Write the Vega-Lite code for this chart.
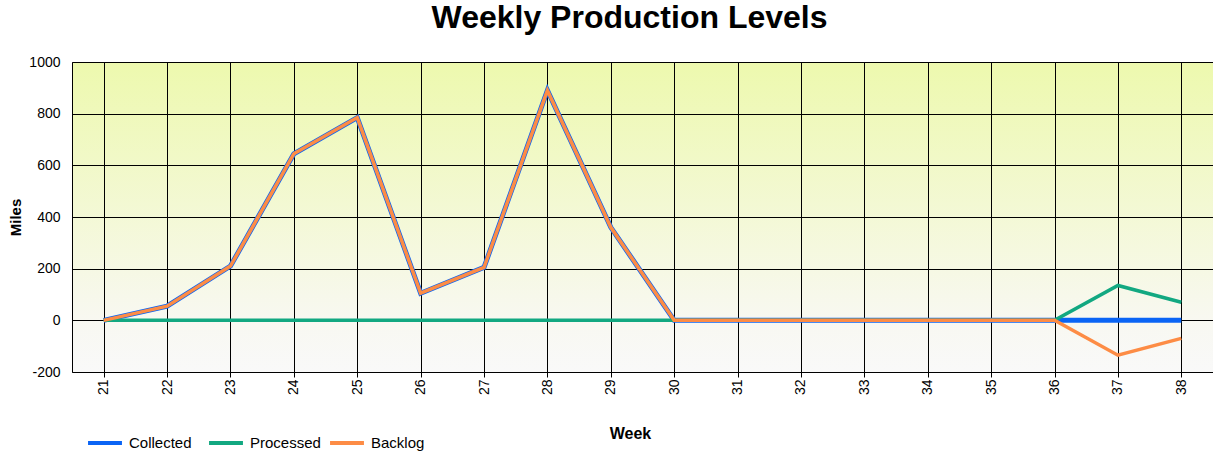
{
  "$schema": "https://vega.github.io/schema/vega-lite/v6.json",
  "autosize": "none",
  "width": 1141,
  "height": 310,
  "padding": {"left": 72, "top": 62, "right": 0, "bottom": 86},
  "background": "white",
  "title": {
    "text": "Weekly Production Levels",
    "font": "Liberation Sans",
    "fontSize": 32,
    "fontWeight": "bold",
    "color": "#000000",
    "anchor": "middle",
    "dx": -13,
    "offset": 20
  },
  "view": {
    "stroke": "#000000",
    "strokeWidth": 1,
    "fill": {
      "gradient": "linear",
      "x1": 0, "y1": 0, "x2": 0, "y2": 1,
      "stops": [
        {"offset": 0, "color": "#edf9ae"},
        {"offset": 0.83, "color": "#f8f8f1"},
        {"offset": 1, "color": "#f9f9f9"}
      ]
    }
  },
  "data": {
    "values": [
      {"week": 21, "series": "Collected", "value": 0},
      {"week": 22, "series": "Collected", "value": 55},
      {"week": 23, "series": "Collected", "value": 210},
      {"week": 24, "series": "Collected", "value": 645},
      {"week": 25, "series": "Collected", "value": 785},
      {"week": 26, "series": "Collected", "value": 105},
      {"week": 27, "series": "Collected", "value": 205},
      {"week": 28, "series": "Collected", "value": 890},
      {"week": 29, "series": "Collected", "value": 360},
      {"week": 30, "series": "Collected", "value": 0},
      {"week": 31, "series": "Collected", "value": 0},
      {"week": 32, "series": "Collected", "value": 0},
      {"week": 33, "series": "Collected", "value": 0},
      {"week": 34, "series": "Collected", "value": 0},
      {"week": 35, "series": "Collected", "value": 0},
      {"week": 36, "series": "Collected", "value": 0},
      {"week": 37, "series": "Collected", "value": 0},
      {"week": 38, "series": "Collected", "value": 0},
      {"week": 21, "series": "Processed", "value": 0},
      {"week": 22, "series": "Processed", "value": 0},
      {"week": 23, "series": "Processed", "value": 0},
      {"week": 24, "series": "Processed", "value": 0},
      {"week": 25, "series": "Processed", "value": 0},
      {"week": 26, "series": "Processed", "value": 0},
      {"week": 27, "series": "Processed", "value": 0},
      {"week": 28, "series": "Processed", "value": 0},
      {"week": 29, "series": "Processed", "value": 0},
      {"week": 30, "series": "Processed", "value": 0},
      {"week": 31, "series": "Processed", "value": 0},
      {"week": 32, "series": "Processed", "value": 0},
      {"week": 33, "series": "Processed", "value": 0},
      {"week": 34, "series": "Processed", "value": 0},
      {"week": 35, "series": "Processed", "value": 0},
      {"week": 36, "series": "Processed", "value": 0},
      {"week": 37, "series": "Processed", "value": 135},
      {"week": 38, "series": "Processed", "value": 70},
      {"week": 21, "series": "Backlog", "value": 0},
      {"week": 22, "series": "Backlog", "value": 55},
      {"week": 23, "series": "Backlog", "value": 210},
      {"week": 24, "series": "Backlog", "value": 645},
      {"week": 25, "series": "Backlog", "value": 785},
      {"week": 26, "series": "Backlog", "value": 105},
      {"week": 27, "series": "Backlog", "value": 205},
      {"week": 28, "series": "Backlog", "value": 890},
      {"week": 29, "series": "Backlog", "value": 360},
      {"week": 30, "series": "Backlog", "value": 0},
      {"week": 31, "series": "Backlog", "value": 0},
      {"week": 32, "series": "Backlog", "value": 0},
      {"week": 33, "series": "Backlog", "value": 0},
      {"week": 34, "series": "Backlog", "value": 0},
      {"week": 35, "series": "Backlog", "value": 0},
      {"week": 36, "series": "Backlog", "value": 0},
      {"week": 37, "series": "Backlog", "value": -135},
      {"week": 38, "series": "Backlog", "value": -70}
    ]
  },
  "layer": [
    {
      "transform": [{"filter": "datum.series === 'Collected'"}],
      "mark": {"type": "line", "strokeWidth": 5, "strokeCap": "butt", "strokeJoin": "miter"},
      "encoding": {
        "x": {"field": "week", "type": "ordinal"},
        "y": {"field": "value", "type": "quantitative"},
        "color": {"field": "series", "type": "nominal"}
      }
    },
    {
      "transform": [{"filter": "datum.series === 'Processed'"}],
      "mark": {"type": "line", "strokeWidth": 3.5, "strokeCap": "butt", "strokeJoin": "miter"},
      "encoding": {
        "x": {"field": "week", "type": "ordinal"},
        "y": {"field": "value", "type": "quantitative"},
        "color": {"field": "series", "type": "nominal"}
      }
    },
    {
      "transform": [{"filter": "datum.series === 'Backlog'"}],
      "mark": {"type": "line", "strokeWidth": 3.5, "strokeCap": "butt", "strokeJoin": "miter"},
      "encoding": {
        "x": {
          "field": "week", "type": "ordinal", "title": "Week",
          "axis": {
            "labelAngle": -90, "labelFontSize": 14, "labelPadding": 2,
            "tickSize": 5, "tickColor": "#000000",
            "titleFontSize": 16, "titleFontWeight": "bold", "titlePadding": 31, "titleX": 558,
            "grid": true, "gridColor": "#000000", "gridOpacity": 1, "gridWidth": 1,
            "domain": false
          }
        },
        "y": {
          "field": "value", "type": "quantitative", "title": "Miles",
          "scale": {"domain": [-200, 1000], "nice": false, "zero": false},
          "axis": {
            "values": [-200, 0, 200, 400, 600, 800, 1000], "labelExpr": "'' + datum.value",
            "labelFontSize": 14, "labelPadding": 12, "ticks": false,
            "titleFontSize": 15, "titleFontWeight": "bold", "titlePadding": 5,
            "grid": true, "gridColor": "#000000", "gridOpacity": 1, "gridWidth": 1,
            "domain": false
          }
        },
        "color": {
          "field": "series", "type": "nominal",
          "scale": {"domain": ["Collected", "Processed", "Backlog"], "range": ["#0a64f5", "#12a881", "#fd8c45"]},
          "legend": {
            "orient": "none", "legendX": 14, "legendY": 362, "direction": "horizontal",
            "title": null, "symbolType": "stroke", "symbolSize": 1150, "symbolStrokeWidth": 4,
            "labelFontSize": 15, "labelOffset": 5, "columnPadding": 1, "gridAlign": "all"
          }
        }
      }
    }
  ],
  "config": {
    "font": "Liberation Sans",
    "axis": {"labelColor": "#000000", "titleColor": "#000000", "labelFont": "Liberation Sans", "titleFont": "Liberation Sans"},
    "legend": {"labelColor": "#000000", "labelFont": "Liberation Sans"}
  }
}
